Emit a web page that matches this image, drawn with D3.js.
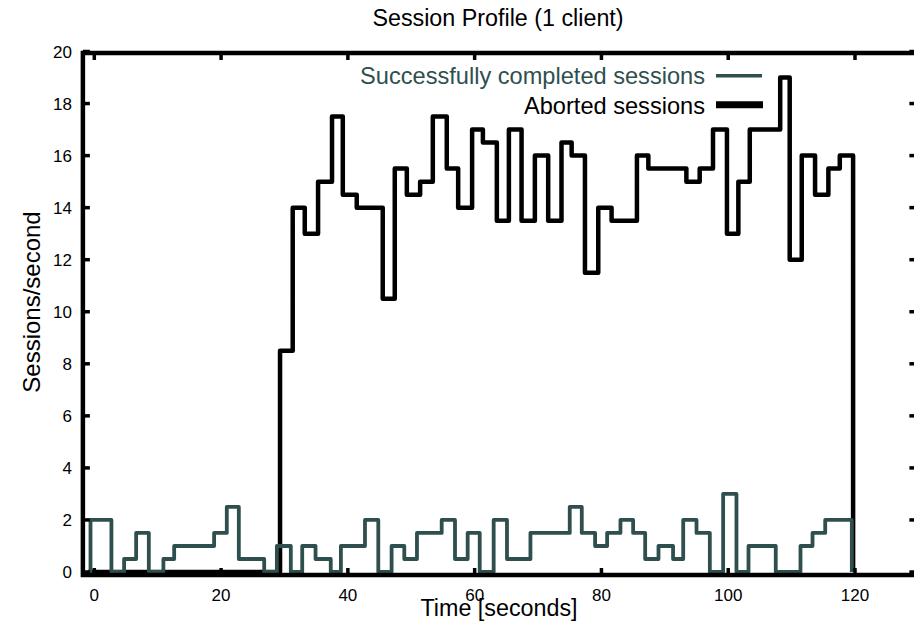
<!DOCTYPE html>
<html>
<head>
<meta charset="utf-8">
<script src="https://cdn.jsdelivr.net/npm/d3@7"></script>
<style>
    body { margin: 0; background: #fff; }
    text { font-family: "Liberation Sans", Arial, sans-serif; }
</style>
</head>
<body>
<div id="chart"></div>
<script>
// Step start times (seconds) and session rates
const successTimes = [-1.0, -0.6, 2.7, 4.7, 6.6, 8.6, 10.9, 12.6, 18.9, 20.9, 22.8, 26.8, 28.8, 31.0, 32.8,
    34.9, 37.3, 38.9, 42.7, 44.8, 46.9, 48.9, 50.9, 54.8, 56.9, 58.9, 60.8, 63.0, 65.1, 68.8, 75.0,
    76.9, 79.0, 80.9, 83.0, 85.0, 86.9, 89.0, 91.3, 92.9, 95.0, 97.1, 99.2, 101.3, 103.2, 107.5,
    111.4, 113.3, 115.3, 119.5];
const successValues = [0, 2, 0, 0.5, 1.5, 0, 0.5, 1, 1.5, 2.5, 0.5, 0, 1, 0, 1,
    0.5, 0, 1, 2, 0, 1, 0.5, 1.5, 2, 0.5, 1.5, 0, 2, 0.5, 1.5, 2.5,
    1.5, 1, 1.5, 2, 1.5, 0.5, 1, 0.5, 2, 1.5, 0, 3, 0, 1, 0,
    1, 1.5, 2, 0];

const abortedTimes = [-1.0, 29.3, 31.3, 33.2, 35.3, 37.5, 39.2, 41.4, 45.5, 47.4, 49.3, 51.4, 53.4,
    55.6, 57.4, 59.6, 61.3, 63.5, 65.4, 67.4, 69.5, 71.6, 73.7, 75.3, 77.4, 79.5, 81.6, 85.6, 87.4,
    93.4, 95.5, 97.6, 99.8, 101.6, 103.4, 108.2, 109.7, 111.6, 113.7, 115.8, 117.6, 119.7];
const abortedValues = [0, 8.5, 14, 13, 15, 17.5, 14.5, 14, 10.5, 15.5, 14.5, 15, 17.5,
    15.5, 14, 17, 16.5, 13.5, 17, 13.5, 16, 13.5, 16.5, 16, 11.5, 14, 13.5, 16, 15.5,
    15, 15.5, 17, 13, 15, 17, 19, 12, 16, 14.5, 15.5, 16, 0];

const xTicks = [0, 20, 40, 60, 80, 100, 120];
const yTicks = [0, 2, 4, 6, 8, 10, 12, 14, 16, 18, 20];

const successColor = "#2f4f4f";

const width = 914, height = 622;

const svg = d3.select("#chart")
    .append("svg")
    .attr("width", width)
    .attr("height", height);

// Scales (plot frame runs a bit past 0 and 120)
const x = d3.scaleLinear()
    .domain([0, 120])
    .range([94.3, 855]);

const y = d3.scaleLinear()
    .domain([0, 20])
    .range([572, 51.5]);

const frameLeft = x(-1.8), frameRight = x(130),
    frameTop = 53, frameBottom = 575;

// Step lines
const line = d3.line()
    .x(d => x(d[0]))
    .y(d => y(d[1]))
    .curve(d3.curveStepAfter);

const aborted = abortedTimes.map((t, i) => [t, abortedValues[i]]);
const success = successTimes.map((t, i) => [t, successValues[i]]);

svg.append("path")
    .datum(aborted)
    .attr("fill", "none")
    .attr("stroke", "black")
    .attr("stroke-width", 4.5)
    .attr("stroke-linejoin", "round")
    .attr("d", line);

svg.append("path")
    .datum(success)
    .attr("fill", "none")
    .attr("stroke", successColor)
    .attr("stroke-width", 3.8)
    .attr("stroke-linejoin", "round")
    .attr("d", line);

// Frame
svg.append("rect")
    .attr("x", frameLeft)
    .attr("y", frameTop)
    .attr("width", frameRight - frameLeft)
    .attr("height", frameBottom - frameTop)
    .attr("fill", "none")
    .attr("stroke", "black")
    .attr("stroke-width", 4.5);

// Inward ticks on all four sides
const ticks = svg.append("g")
    .attr("stroke", "black")
    .attr("stroke-width", 3.5);

xTicks.forEach(t => {
    ticks.append("line")
        .attr("x1", x(t)).attr("x2", x(t))
        .attr("y1", frameBottom).attr("y2", frameBottom - 7);
    ticks.append("line")
        .attr("x1", x(t)).attr("x2", x(t))
        .attr("y1", frameTop).attr("y2", frameTop + 7);
});

yTicks.forEach(v => {
    ticks.append("line")
        .attr("x1", frameLeft).attr("x2", frameLeft + 7)
        .attr("y1", y(v)).attr("y2", y(v));
    ticks.append("line")
        .attr("x1", frameRight).attr("x2", frameRight - 9)
        .attr("y1", y(v)).attr("y2", y(v));
});

// Tick labels
svg.append("g")
    .selectAll("text")
    .data(xTicks)
    .enter()
    .append("text")
    .attr("x", d => x(d))
    .attr("y", 601)
    .attr("text-anchor", "middle")
    .style("font-size", "17px")
    .text(d => d);

svg.append("g")
    .selectAll("text")
    .data(yTicks)
    .enter()
    .append("text")
    .attr("x", 72)
    .attr("y", d => y(d) + 6)
    .attr("text-anchor", "end")
    .style("font-size", "17px")
    .text(d => d);

// Title and axis labels
svg.append("text")
    .attr("x", 498)
    .attr("y", 26)
    .attr("text-anchor", "middle")
    .style("font-size", "23.3px")
    .text("Session Profile (1 client)");

svg.append("text")
    .attr("x", 499)
    .attr("y", 616)
    .attr("text-anchor", "middle")
    .style("font-size", "23.3px")
    .text("Time [seconds]");

svg.append("text")
    .attr("transform", "rotate(-90)")
    .attr("x", -302)
    .attr("y", 40)
    .attr("text-anchor", "middle")
    .style("font-size", "24px")
    .text("Sessions/second");

// Legend
const legend = svg.append("g");

legend.append("text")
    .attr("x", 705)
    .attr("y", 84)
    .attr("text-anchor", "end")
    .attr("fill", successColor)
    .style("font-size", "23.6px")
    .text("Successfully completed sessions");

legend.append("line")
    .attr("x1", 716).attr("x2", 762)
    .attr("y1", 75.7).attr("y2", 75.7)
    .attr("stroke", successColor)
    .attr("stroke-width", 3.5);

legend.append("text")
    .attr("x", 705)
    .attr("y", 114)
    .attr("text-anchor", "end")
    .attr("fill", "black")
    .style("font-size", "23.6px")
    .text("Aborted sessions");

legend.append("line")
    .attr("x1", 716).attr("x2", 763)
    .attr("y1", 104.7).attr("y2", 104.7)
    .attr("stroke", "black")
    .attr("stroke-width", 7);
</script>
</body>
</html>
